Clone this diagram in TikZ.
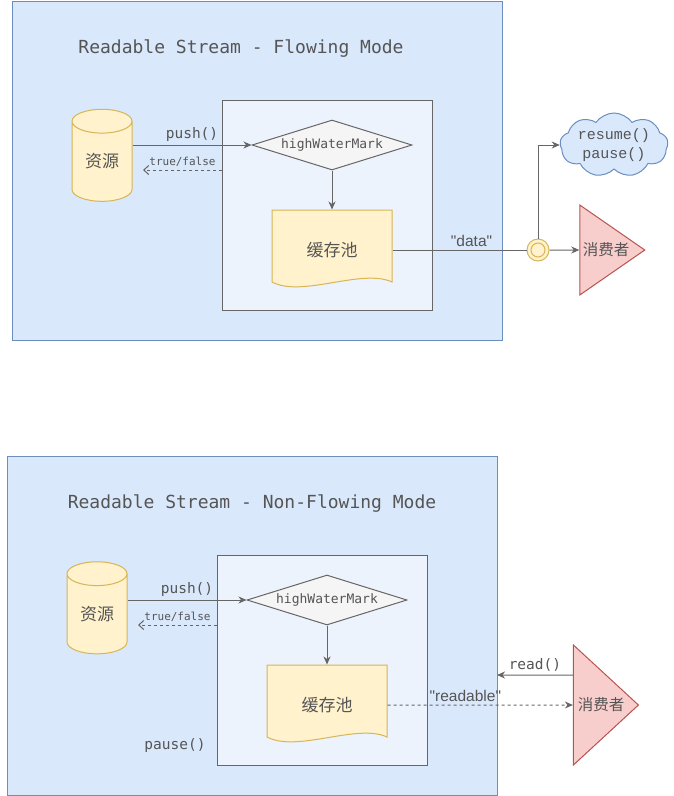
\documentclass[tikz,border=0pt]{standalone}
\usepackage{fontspec}
\setmonofont{DejaVu Sans Mono}
\newfontfamily\cjk{Noto Sans CJK SC}
\newfontfamily\courierfont{Liberation Mono}
\newfontfamily\helvfont{Liberation Sans}
\definecolor{FrameBlue}{HTML}{DAE8FC}
\definecolor{FrameEdge}{HTML}{6C8EBF}
\definecolor{InnerBlue}{HTML}{ECF3FD}
\definecolor{LineGray}{HTML}{666666}
\definecolor{TextGray}{HTML}{555555}
\definecolor{StoreFill}{HTML}{FFF2CC}
\definecolor{StoreEdge}{HTML}{D6B656}
\definecolor{ConsFill}{HTML}{F8CECC}
\definecolor{ConsEdge}{HTML}{B85450}
\definecolor{MarkFill}{HTML}{F5F5F5}
\usetikzlibrary{positioning, arrows.meta, shapes.geometric, shapes.symbols, calc}
% document shape around a centre point
\newcommand{\drawbuffer}[2]{%
  \draw[bufferfill] (#1-60,#2-40) -- (#1+60,#2-40) -- (#1+60,#2+32)
    .. controls (#1+30,#2+18) and (#1-30,#2+48) .. (#1-60,#2+32) -- cycle;}

\begin{document}
\begin{tikzpicture}[x=1pt, y=-1pt, line width=1pt,
    framebox/.style={draw=FrameEdge, fill=FrameBlue},
    innerbox/.style={draw=LineGray, fill=InnerBlue},
    titletext/.style={font=\ttfamily\fontsize{18}{20}\selectfont, text=TextGray},
    code/.style={font=\ttfamily\fontsize{14.5}{16}\selectfont, text=TextGray, inner sep=1pt},
    smallcode/.style={font=\ttfamily\fontsize{11}{13}\selectfont, text=TextGray, inner sep=1pt},
    eventtext/.style={font=\helvfont\fontsize{15.5}{17}\selectfont, text=TextGray, inner sep=1pt},
    sourcebox/.style={cylinder, shape border rotate=90, aspect=0.7, draw=StoreEdge, fill=StoreFill,
      minimum width=60pt, minimum height=92pt, inner sep=0pt,
      font=\cjk\fontsize{17}{19}\selectfont, text=TextGray},
    markbox/.style={diamond, aspect=3.2, draw=LineGray, fill=MarkFill, minimum width=160pt,
      minimum height=50pt, inner sep=0pt, font=\ttfamily\fontsize{13}{15}\selectfont, text=TextGray},
    bufferfill/.style={draw=StoreEdge, fill=StoreFill},
    bufferbox/.style={minimum width=120pt, minimum height=80pt, inner sep=0pt,
      font=\cjk\fontsize{17}{19}\selectfont, text=TextGray},
    consumerbox/.style={isosceles triangle, isosceles triangle stretches, draw=ConsEdge, fill=ConsFill,
      minimum width=90pt, minimum height=65pt, inner sep=0pt,
      font=\cjk\fontsize{15.5}{17}\selectfont, text=TextGray},
    tapbox/.style={circle, draw=StoreEdge, fill=StoreFill, minimum size=22pt, inner sep=0pt,
      label={[circle, draw=StoreEdge, minimum size=14pt, inner sep=0pt]center:{}}},
    controlbox/.style={cloud, cloud puffs=9, cloud puff arc=110, aspect=2.3, draw=FrameEdge, fill=FrameBlue,
      minimum width=108pt, minimum height=64pt, inner sep=-3pt, align=center,
      font=\courierfont\fontsize{15}{19}\selectfont, text=TextGray},
    wire/.style={draw=LineGray},
    arr/.style={wire, -{Stealth[length=8pt, width=7pt, inset=2.5pt]}},
    retarr/.style={wire, dash pattern=on 3pt off 3pt, -{Straight Barb[length=5pt, width=9pt]}},
    dasharr/.style={wire, dash pattern=on 3pt off 3pt, -{Stealth[length=8pt, width=7pt, inset=2.5pt]}}]
  \useasboundingbox (0,0) rectangle (673,796);

  % flowing mode
  \draw[framebox] (12,1) rectangle (502,340);
  \node[titletext] (title1) at (241,49) {Readable Stream - Flowing Mode};
  \draw[innerbox] (222,100) rectangle (432,310);
  \node[sourcebox] (src1) at (102,161.5) {资源};
  \node[markbox] (hwm1) at (332,145) {highWaterMark};
  \drawbuffer{332}{250}
  \node[bufferbox] (buf1) at (332,250) {缓存池};
  \node[tapbox] (tap1) at (538,250) {};
  \node[consumerbox] (cons1) at (606,250) {消费者};
  \node[controlbox] (ctl1) at (614,145) {resume()\\pause()};
  \coordinate (ret1) at (222,170);
  \coordinate (ret1end) at (143,170);

  \draw[arr] (src1.east |- hwm1.west) -- node[code, above=2pt] {push()} (hwm1.west);
  \draw[retarr] (ret1) -- node[smallcode, above=2pt] {true/false} (ret1end);
  \draw[arr] (hwm1.south) -- (buf1.north);
  \draw[wire] (buf1.east) -- node[eventtext, above=2pt, pos=0.59] {"data"} (tap1.west);
  \draw[arr] (tap1.east) -- (cons1.west);
  \draw[arr] (tap1.north) |- (ctl1.west);

  % non-flowing mode
  \draw[framebox] (7,456) rectangle (497,795);
  \node[titletext] (title2) at (252,504) {Readable Stream - Non-Flowing Mode};
  \draw[innerbox] (217,555) rectangle (427,765);
  \node[sourcebox] (src2) at (97,614) {资源};
  \node[markbox] (hwm2) at (327,600) {highWaterMark};
  \drawbuffer{327}{705}
  \node[bufferbox] (buf2) at (327,705) {缓存池};
  \node[consumerbox, minimum width=120pt] (cons2) at (601,705) {消费者};
  \node[code] (pause2) at (175,745) {pause()};
  \coordinate (ret2) at (217,625);
  \coordinate (ret2end) at (138,625);
  \coordinate (read2end) at (497,675);

  \draw[arr] (src2.east |- hwm2.west) -- node[code, above=2pt] {push()} (hwm2.west);
  \draw[retarr] (ret2) -- node[smallcode, above=2pt] {true/false} (ret2end);
  \draw[arr] (hwm2.south) -- (buf2.north);
  \draw[dasharr] (buf2.east) -- node[eventtext, above=2pt, pos=0.42] {"readable"} (cons2.west);
  \draw[arr] ([yshift=30pt]cons2.west) -- node[code, above=2pt] {read()} (read2end);
\end{tikzpicture}
\end{document}
